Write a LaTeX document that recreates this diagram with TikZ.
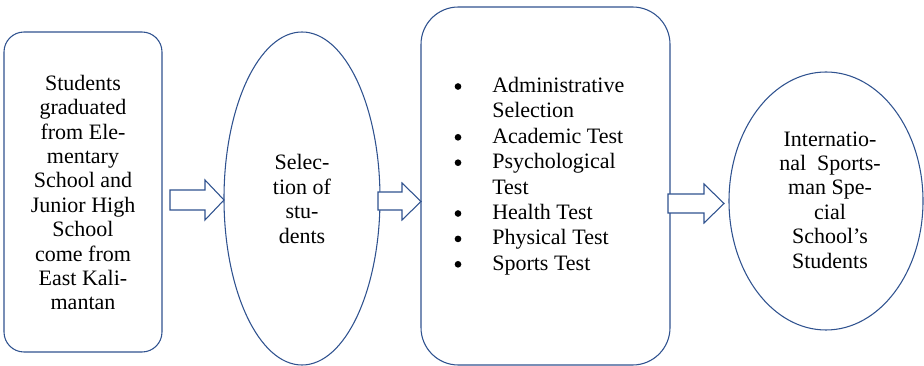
\documentclass[tikz,border=0pt]{standalone}
\usepackage{fontspec}
\setmainfont{Liberation Serif}
\usetikzlibrary{shapes.geometric}
\definecolor{lineblue}{RGB}{47,82,143}
\begin{document}
\begin{tikzpicture}[x=0.75pt,y=-0.75pt,
  shapeline/.style={draw=lineblue,line width=0.8pt},
  boxshape/.style={shapeline,rectangle,inner sep=0pt},
  ellshape/.style={shapeline,ellipse,inner sep=0pt},
  txt/.style={inner sep=0pt,align=center,font=\fontsize{16.5}{18.3}\selectfont},
  bulletdot/.style={circle,fill=black,inner sep=0pt,minimum size=5pt},
  blockarrow/.style={shapeline,fill=white,line join=miter}]
\useasboundingbox (0,0) rectangle (924,366);
% shapes
\node[boxshape,rounded corners=15pt,minimum width=118.5pt,minimum height=240pt] (b1) at (83,192) {};
\node[ellshape,minimum width=117pt,minimum height=249.75pt] (e2) at (302,198.5) {};
\node[boxshape,rounded corners=28pt,minimum width=186.75pt,minimum height=268.5pt] (b3) at (545.5,186) {};
\node[ellshape,minimum width=145.5pt,minimum height=193.5pt] (e4) at (826,201) {};
% texts
\node[txt] (t1) at (83,192.5) {Students\\graduated\\from Ele-\\mentary\\School and\\Junior High\\School\\come from\\East Kali-\\mantan};
\node[txt] (t2) at (302,199) {Selec-\\tion of\\stu-\\dents};
\node[txt,align=left,anchor=north west,font=\fontsize{16.5}{19.05}\selectfont] (t3) at (492,77)
 {Administrative\\
  Selection\\
  Academic Test\\
  Psychological\\
  Test\\
  Health Test\\
  Physical Test\\
  Sports Test};
\node[txt] (t4) at (830,200) {Internatio-\\nal\ \ Sports-\\man Spe-\\cial\\School’s\\Students};
% bullets
\node[bulletdot] (d1) at (458,86.5) {};
\node[bulletdot] (d2) at (458,137.3) {};
\node[bulletdot] (d3) at (458,162.7) {};
\node[bulletdot] (d4) at (458,213.5) {};
\node[bulletdot] (d5) at (458,238.9) {};
\node[bulletdot] (d6) at (458,264.3) {};
% block arrows
\draw[blockarrow] (170,190) -- (205,190) -- (205,180) -- (224,200) -- (205,220) -- (205,210) -- (170,210) -- cycle;
\draw[blockarrow] (378,192) -- (402,192) -- (402,183) -- (421,201.5) -- (402,220) -- (402,210) -- (378,210) -- cycle;
\draw[blockarrow] (668,194) -- (704,194) -- (704,184) -- (724,203.5) -- (704,223) -- (704,213) -- (668,213) -- cycle;
\end{tikzpicture}
\end{document}
